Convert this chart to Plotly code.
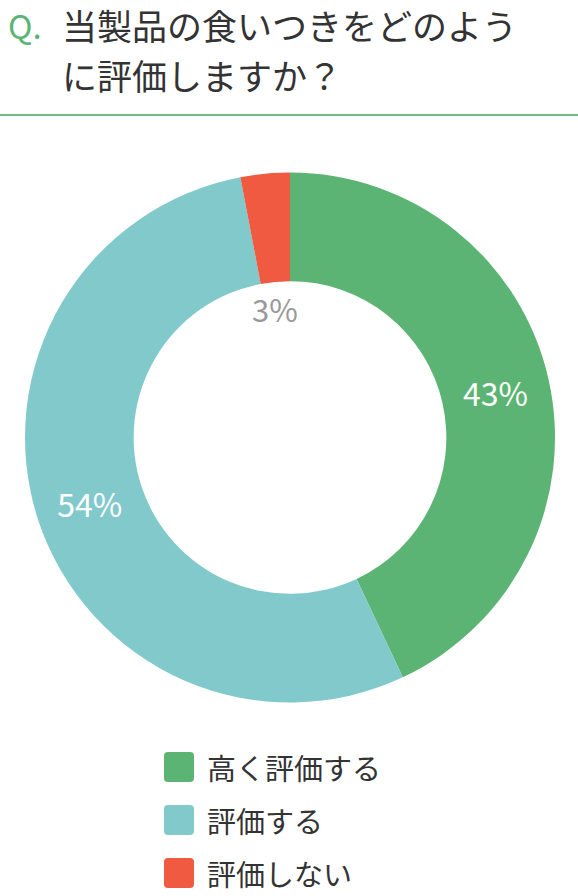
import plotly.graph_objects as go

W, H = 578, 896

categories = ["高く評価する", "評価する", "評価しない"]
values = [43, 54, 3]
colors = ["#5BB473", "#82C9CC", "#EF5A41"]
title_q = "Q."
title_lines = ["当製品の食いつきをどのよう", "に評価しますか？"]

FONT = "Noto Sans CJK JP"


def px_x(x):
    return x / W


def px_y(y):
    return 1 - y / H


fig = go.Figure()
fig.add_trace(go.Pie(
    labels=categories,
    values=values,
    marker=dict(colors=colors, line=dict(width=0)),
    hole=0.59,
    sort=False,
    direction="clockwise",
    rotation=0,
    texttemplate="%{value}%",
    textposition=["inside", "inside", "none"],
    insidetextorientation="horizontal",
    textfont=dict(family=FONT, size=32, color="white"),
    hoverinfo="skip",
    showlegend=False,
    domain=dict(x=[px_x(25), px_x(555)], y=[px_y(703), px_y(172)]),
))

annotations = []
shapes = []

# Title
annotations.append(dict(text=title_q, x=px_x(6), y=px_y(25), xref="paper", yref="paper",
                        xanchor="left", yanchor="middle", showarrow=False,
                        font=dict(family=FONT, size=33, color="#5BB473")))
for i, line in enumerate(title_lines):
    annotations.append(dict(text=line, x=px_x(60), y=px_y(25 + 50 * i), xref="paper", yref="paper",
                            xanchor="left", yanchor="middle", showarrow=False,
                            font=dict(family=FONT, size=35, color="#333333")))

shapes.append(dict(type="line", xref="paper", yref="paper", x0=0, x1=1,
                   y0=px_y(115), y1=px_y(115), line=dict(color="#6DBE84", width=2)))

# Small slice label in the hole
annotations.append(dict(text=f"{values[2]}%", x=px_x(275), y=px_y(308), xref="paper", yref="paper",
                        xanchor="center", yanchor="middle", showarrow=False,
                        font=dict(family=FONT, size=31, color="#999999")))


# Custom legend
def rounded_rect(x0, y0, x1, y1, r):
    X = lambda v: px_x(v)
    Y = lambda v: px_y(v)
    return (f"M {X(x0 + r)},{Y(y0)} L {X(x1 - r)},{Y(y0)} Q {X(x1)},{Y(y0)} {X(x1)},{Y(y0 + r)} "
            f"L {X(x1)},{Y(y1 - r)} Q {X(x1)},{Y(y1)} {X(x1 - r)},{Y(y1)} "
            f"L {X(x0 + r)},{Y(y1)} Q {X(x0)},{Y(y1)} {X(x0)},{Y(y1 - r)} "
            f"L {X(x0)},{Y(y0 + r)} Q {X(x0)},{Y(y0)} {X(x0 + r)},{Y(y0)} Z")


for i, (cat, col) in enumerate(zip(categories, colors)):
    cy = 767 + 53 * i
    shapes.append(dict(type="path", xref="paper", yref="paper",
                       path=rounded_rect(164, cy - 15, 194, cy + 15, 4),
                       fillcolor=col, line=dict(width=0)))
    annotations.append(dict(text=cat, x=px_x(205), y=px_y(cy), xref="paper", yref="paper",
                            xanchor="left", yanchor="middle", showarrow=False,
                            font=dict(family=FONT, size=29, color="#333333")))

fig.update_layout(
    width=W, height=H,
    margin=dict(l=0, r=0, t=0, b=0),
    paper_bgcolor="white", plot_bgcolor="white",
    annotations=annotations, shapes=shapes,
    showlegend=False,
)

fig.write_html("out.html", config={"displayModeBar": False})

with open("out.html", encoding="utf-8") as f:
    html = f.read()
html = html.replace("<head>", "<head><style>html,body{margin:0;padding:0;overflow:hidden;}</style>", 1)
with open("out.html", "w", encoding="utf-8") as f:
    f.write(html)
